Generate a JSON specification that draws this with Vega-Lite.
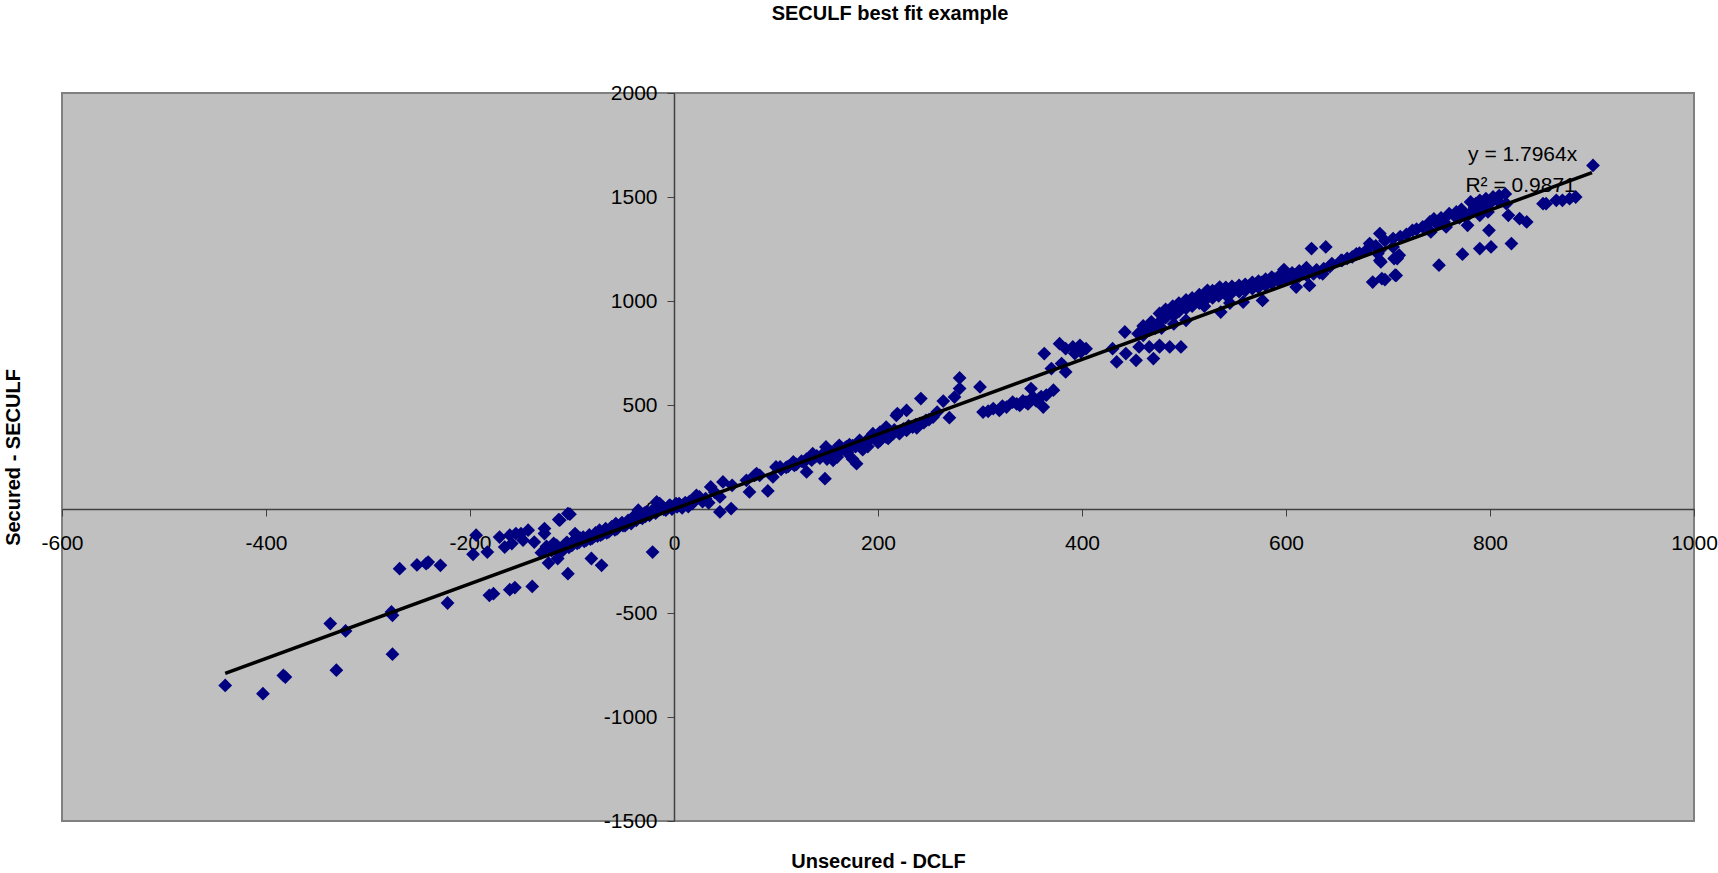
{
  "$schema": "https://vega.github.io/schema/vega-lite/v6.json",
  "width": 1632,
  "height": 728,
  "autosize": {"type": "none"},
  "padding": {"left": 62, "top": 93, "right": 24, "bottom": 52},
  "background": "white",
  "config": {
    "view": {"fill": "#C0C0C0", "stroke": "#808080", "strokeWidth": 2},
    "font": "Liberation Sans"
  },
  "title": {
    "text": "SECULF best fit example",
    "font": "Liberation Sans",
    "fontSize": 20,
    "fontWeight": "bold",
    "color": "black",
    "anchor": "middle",
    "baseline": "alphabetic",
    "offset": 42,
    "dx": 12
  },
  "encoding": {
    "x": {
      "field": "x",
      "type": "quantitative",
      "scale": {"domain": [-600, 1000], "nice": false, "zero": false},
      "axis": {
        "orient": "bottom",
        "offset": -312,
        "values": [-600, -400, -200, 0, 200, 400, 600, 800, 1000],
        "labelExpr": "datum.value + ''",
        "grid": false,
        "domainColor": "#404040",
        "domainWidth": 1.5,
        "tickColor": "#404040",
        "tickSize": 7,
        "labelPadding": 16,
        "labelFont": "Liberation Sans",
        "labelFontSize": 21,
        "labelColor": "black",
        "labelOverlap": false,
        "labelFlush": false,
        "title": "Unsecured - DCLF",
        "titleFont": "Liberation Sans",
        "titleFontSize": 20,
        "titleFontWeight": "bold",
        "titleColor": "black",
        "titleX": 816,
        "titleY": 352,
        "titleAlign": "center",
        "titleBaseline": "middle"
      }
    },
    "y": {
      "field": "y",
      "type": "quantitative",
      "scale": {"domain": [-1500, 2000], "nice": false, "zero": false},
      "axis": {
        "orient": "left",
        "offset": -612,
        "values": [-1500, -1000, -500, 0, 500, 1000, 1500, 2000],
        "labelExpr": "datum.value + ''",
        "grid": false,
        "domainColor": "#404040",
        "domainWidth": 1.5,
        "tickColor": "#404040",
        "tickSize": 7,
        "labelPadding": 10,
        "labelFont": "Liberation Sans",
        "labelFontSize": 21,
        "labelColor": "black",
        "labelOverlap": false,
        "labelFlush": false,
        "title": "Secured - SECULF",
        "titleFont": "Liberation Sans",
        "titleFontSize": 20,
        "titleFontWeight": "bold",
        "titleColor": "black",
        "titleX": -661,
        "titleY": 364,
        "titleAngle": -90,
        "titleAlign": "center",
        "titleBaseline": "middle"
      }
    }
  },
  "layer": [
    {
      "data": {"values": [
        {"x":-440,"y":-848},{"x":-403,"y":-888},{"x":-383,"y":-800},{"x":-381,"y":-808},{"x":-337,"y":-551},{"x":-331,"y":-775},{"x":-322,"y":-586},{"x":-277,"y":-495},{"x":-276,"y":-511},{"x":-276,"y":-698},{"x":-269,"y":-287},{"x":-252,"y":-269},{"x":-243,"y":-263},{"x":-241,"y":-255},{"x":-229,"y":-271},{"x":-222,"y":-452},{"x":-197,"y":-218},{"x":-194,"y":-126},{"x":-183,"y":-207},{"x":-181,"y":-415},{"x":-177,"y":-407},{"x":-171,"y":-135},{"x":-166,"y":-183},{"x":-161,"y":-126},{"x":-155,"y":-118},{"x":-148,"y":-150},{"x":-143,"y":-102},{"x":-137,"y":-159},{"x":-159,"y":-166},{"x":-150,"y":-118},{"x":-161,"y":-388},{"x":-156,"y":-378},{"x":-139,"y":-372},{"x":-127,"y":-94},{"x":-127,"y":-118},{"x":-113,"y":-51},{"x":-123,"y":-260},{"x":-114,"y":-238},{"x":-117,"y":-190},{"x":-109,"y":-199},{"x":-106,"y":-166},{"x":-104,"y":-22},{"x":-104,"y":-311},{"x":-112,"y":-54},{"x":-102,"y":-25},{"x":-116,"y":-189},{"x":-97,"y":-118},{"x":-81,"y":-238},{"x":-71,"y":-271},{"x":-21,"y":-207},
        {"x":-120,"y":-200},{"x":-115,"y":-175},{"x":-110,"y":-190},{"x":-105,"y":-160},{"x":-100,"y":-175},{"x":-98,"y":-150},{"x":-95,"y":-165},{"x":-92,"y":-140},{"x":-89,"y":-135},{"x":-86,"y":-150},{"x":-83,"y":-125},{"x":-80,"y":-140},{"x":-77,"y":-115},{"x":-75,"y":-130},{"x":-73,"y":-102},{"x":-70,"y":-120},{"x":-67,"y":-95},{"x":-64,"y":-110},{"x":-61,"y":-85},{"x":-58,"y":-100},{"x":-57,"y":-70},{"x":-54,"y":-85},{"x":-51,"y":-65},{"x":-48,"y":-80},{"x":-45,"y":-55},{"x":-42,"y":-70},{"x":-40,"y":-38},{"x":-37,"y":-55},{"x":-35,"y":-6},{"x":-34,"y":-30},{"x":-31,"y":-45},{"x":-29,"y":-20},{"x":-27,"y":-14},{"x":-24,"y":-30},{"x":-21,"y":-5},{"x":-18,"y":-20},{"x":-17,"y":34},{"x":-14,"y":26},{"x":-11,"y":10},{"x":-8,"y":-5},{"x":-5,"y":15},{"x":-4,"y":18},{"x":-2,"y":0},{"x":0,"y":10},{"x":2,"y":26},{"x":5,"y":26},{"x":8,"y":5},{"x":11,"y":30},{"x":14,"y":12},{"x":18,"y":26},{"x":22,"y":66},{"x":25,"y":58},{"x":28,"y":35},{"x":31,"y":50},{"x":34,"y":30},
        {"x":-130,"y":-210},{"x":-125,"y":-180},{"x":-118,"y":-165},{"x":-108,"y":-175},{"x":-103,"y":-185},{"x":-93,"y":-160},{"x":-88,"y":-155},{"x":-82,"y":-145},{"x":-78,"y":-130},{"x":-72,"y":-125},{"x":-66,"y":-115},{"x":-62,"y":-100},{"x":-56,"y":-95},{"x":-50,"y":-80},{"x":-46,"y":-70},{"x":-43,"y":-60},{"x":-38,"y":-50},{"x":-33,"y":-40},{"x":-28,"y":-35},{"x":-23,"y":-25},{"x":-19,"y":-10},{"x":-15,"y":-5},{"x":-10,"y":-2},{"x":-6,"y":5},{"x":-3,"y":12},{"x":3,"y":10},{"x":6,"y":18},{"x":9,"y":20},{"x":12,"y":22},{"x":15,"y":35},{"x":20,"y":40},
        {"x":36,"y":106},{"x":48,"y":130},{"x":45,"y":-14},{"x":56,"y":2},{"x":45,"y":58},{"x":40,"y":80},{"x":74,"y":82},{"x":79,"y":162},{"x":81,"y":170},{"x":92,"y":87},{"x":57,"y":114},{"x":71,"y":138},{"x":84,"y":162},{"x":97,"y":154},{"x":100,"y":202},{"x":104,"y":202},{"x":110,"y":200},{"x":116,"y":218},{"x":117,"y":226},{"x":120,"y":215},{"x":125,"y":230},{"x":130,"y":178},{"x":130,"y":240},{"x":135,"y":235},{"x":136,"y":266},{"x":140,"y":255},{"x":145,"y":260},{"x":148,"y":146},{"x":149,"y":298},{"x":150,"y":270},{"x":150,"y":240},{"x":155,"y":275},{"x":156,"y":234},{"x":160,"y":285},{"x":160,"y":250},{"x":162,"y":306},{"x":165,"y":290},{"x":169,"y":298},{"x":170,"y":270},{"x":175,"y":305},{"x":175,"y":240},{"x":179,"y":218},{"x":180,"y":315},{"x":182,"y":330},{"x":185,"y":285},{"x":190,"y":335},{"x":190,"y":300},{"x":195,"y":362},{"x":200,"y":320},{"x":202,"y":370},{"x":208,"y":394},{"x":210,"y":340},{"x":215,"y":362},{"x":218,"y":450},
        {"x":105,"y":190},{"x":112,"y":205},{"x":118,"y":210},{"x":127,"y":225},{"x":133,"y":245},{"x":138,"y":250},{"x":143,"y":245},{"x":152,"y":280},{"x":158,"y":265},{"x":163,"y":280},{"x":168,"y":295},{"x":172,"y":310},{"x":178,"y":300},{"x":183,"y":320},{"x":188,"y":320},{"x":193,"y":340},{"x":198,"y":345},{"x":204,"y":355},{"x":211,"y":365},{"x":216,"y":380},
        {"x":202,"y":330},{"x":208,"y":346},{"x":212,"y":350},{"x":215,"y":370},{"x":221,"y":362},{"x":225,"y":385},{"x":228,"y":378},{"x":230,"y":400},{"x":234,"y":394},{"x":237,"y":405},{"x":238,"y":390},{"x":241,"y":410},{"x":245,"y":415},{"x":247,"y":426},{"x":250,"y":430},{"x":254,"y":442},{"x":258,"y":466},{"x":219,"y":459},{"x":228,"y":474},{"x":242,"y":531},{"x":264,"y":519},{"x":275,"y":538},{"x":280,"y":579},{"x":280,"y":630},{"x":300,"y":587},{"x":270,"y":439},
        {"x":303,"y":466},{"x":308,"y":470},{"x":313,"y":483},{"x":319,"y":474},{"x":322,"y":495},{"x":326,"y":490},{"x":332,"y":514},{"x":336,"y":505},{"x":339,"y":498},{"x":342,"y":520},{"x":345,"y":514},{"x":347,"y":505},{"x":350,"y":579},{"x":352,"y":538},{"x":355,"y":520},{"x":358,"y":531},{"x":360,"y":540},{"x":362,"y":490},{"x":365,"y":547},{"x":372,"y":571},
        {"x":363,"y":747},{"x":370,"y":675},{"x":380,"y":699},{"x":384,"y":659},{"x":378,"y":795},{"x":384,"y":771},{"x":391,"y":779},{"x":398,"y":787},{"x":404,"y":771},{"x":393,"y":747},{"x":399,"y":755},
        {"x":430,"y":771},{"x":434,"y":707},{"x":443,"y":747},{"x":453,"y":715},{"x":456,"y":779},{"x":466,"y":779},{"x":470,"y":723},{"x":476,"y":787},{"x":486,"y":779},{"x":442,"y":851},{"x":455,"y":843},{"x":476,"y":779},{"x":497,"y":779},{"x":466,"y":860},{"x":478,"y":870},{"x":490,"y":890},{"x":460,"y":835},{"x":460,"y":880},{"x":468,"y":900},{"x":472,"y":870},
        {"x":476,"y":900},{"x":476,"y":940},{"x":482,"y":920},{"x":482,"y":960},{"x":489,"y":935},{"x":489,"y":975},{"x":495,"y":950},{"x":495,"y":990},{"x":502,"y":965},{"x":502,"y":1005},{"x":508,"y":975},{"x":508,"y":1015},{"x":515,"y":990},{"x":515,"y":1030},{"x":521,"y":1005},{"x":521,"y":1040},{"x":528,"y":1015},{"x":528,"y":1050},{"x":534,"y":1025},{"x":534,"y":1060},{"x":541,"y":1030},{"x":541,"y":1065},{"x":547,"y":1040},{"x":547,"y":1070},{"x":554,"y":1045},{"x":554,"y":1075},{"x":560,"y":1050},{"x":560,"y":1080},{"x":567,"y":1060},{"x":567,"y":1090},{"x":573,"y":1065},{"x":573,"y":1095},{"x":580,"y":1075},{"x":580,"y":1105},{"x":586,"y":1085},{"x":586,"y":1115},{"x":593,"y":1095},{"x":593,"y":1120},{"x":600,"y":1105},{"x":600,"y":1130},{"x":606,"y":1110},{"x":606,"y":1135},{"x":613,"y":1120},{"x":613,"y":1145},{"x":620,"y":1125},{"x":620,"y":1150},{"x":627,"y":1130},{"x":633,"y":1135},
        {"x":479,"y":925},{"x":486,"y":950},{"x":492,"y":960},{"x":499,"y":975},{"x":505,"y":990},{"x":511,"y":1000},{"x":518,"y":1015},{"x":524,"y":1025},{"x":531,"y":1035},{"x":537,"y":1045},{"x":544,"y":1055},{"x":550,"y":1060},{"x":557,"y":1065},{"x":563,"y":1070},{"x":570,"y":1080},{"x":576,"y":1090},{"x":583,"y":1095},{"x":589,"y":1105},{"x":596,"y":1110},{"x":603,"y":1120},{"x":609,"y":1125},{"x":616,"y":1135},{"x":623,"y":1140},{"x":630,"y":1150},{"x":637,"y":1155},{"x":643,"y":1165},
        {"x":502,"y":907},{"x":536,"y":947},{"x":558,"y":995},{"x":577,"y":1003},{"x":610,"y":1067},{"x":623,"y":1075},{"x":490,"y":930},{"x":520,"y":975},{"x":545,"y":990},{"x":523,"y":1051},{"x":535,"y":1067},{"x":598,"y":1151},{"x":620,"y":1160},{"x":636,"y":1131},
        {"x":654,"y":1195},{"x":665,"y":1212},{"x":669,"y":1227},{"x":625,"y":1252},{"x":639,"y":1260},{"x":682,"y":1276},{"x":690,"y":1228},{"x":693,"y":1188},{"x":705,"y":1260},{"x":709,"y":1204},{"x":711,"y":1220},{"x":685,"y":1091},{"x":697,"y":1103},{"x":708,"y":1123},
        {"x":645,"y":1180},{"x":655,"y":1195},{"x":660,"y":1205},{"x":672,"y":1230},{"x":680,"y":1250},{"x":688,"y":1265},{"x":697,"y":1290},{"x":712,"y":1310},{"x":718,"y":1320},{"x":728,"y":1345},{"x":748,"y":1370},{"x":770,"y":1400},{"x":775,"y":1410},
        {"x":745,"y":1395},{"x":752,"y":1400},{"x":765,"y":1410},{"x":772,"y":1440},{"x":785,"y":1450},{"x":800,"y":1470},{"x":808,"y":1480},
        {"x":692,"y":1324},{"x":705,"y":1300},{"x":724,"y":1340},{"x":734,"y":1356},{"x":741,"y":1380},{"x":755,"y":1380},{"x":760,"y":1420},{"x":767,"y":1428},{"x":780,"y":1420},{"x":790,"y":1412},{"x":798,"y":1428},{"x":778,"y":1364},{"x":757,"y":1356},{"x":742,"y":1332},{"x":781,"y":1476},{"x":790,"y":1484},{"x":796,"y":1492},{"x":803,"y":1500},{"x":809,"y":1507},{"x":815,"y":1515},{"x":786,"y":1468},{"x":793,"y":1452},{"x":816,"y":1468},{"x":818,"y":1412},{"x":829,"y":1396},{"x":836,"y":1380},{"x":852,"y":1468},{"x":855,"y":1468},{"x":865,"y":1484},{"x":871,"y":1484},{"x":878,"y":1492},{"x":884,"y":1500},{"x":799,"y":1340},{"x":692,"y":1244},{"x":706,"y":1204},{"x":709,"y":1212},{"x":692,"y":1195},{"x":694,"y":1108},{"x":707,"y":1124},{"x":750,"y":1172},{"x":773,"y":1225},{"x":790,"y":1252},{"x":801,"y":1260},{"x":821,"y":1276},{"x":901,"y":1652}
      ]},
      "mark": {"type": "point", "shape": "diamond", "filled": true, "color": "#000080", "opacity": 1, "size": 190, "strokeWidth": 0}
    },
    {
      "data": {"values": [{"x": -440, "y": -790.4}, {"x": 900, "y": 1616.8}]},
      "mark": {"type": "line", "color": "black", "strokeWidth": 3.5}
    },
    {
      "data": {"values": [
        {"x": 832, "y": 1703, "label": "y = 1.7964x"},
        {"x": 830, "y": 1553, "label": "R² = 0.9871"}
      ]},
      "mark": {"type": "text", "font": "Liberation Sans", "fontSize": 21, "color": "black", "align": "center", "baseline": "middle"},
      "encoding": {"text": {"field": "label", "type": "nominal"}}
    }
  ]
}
